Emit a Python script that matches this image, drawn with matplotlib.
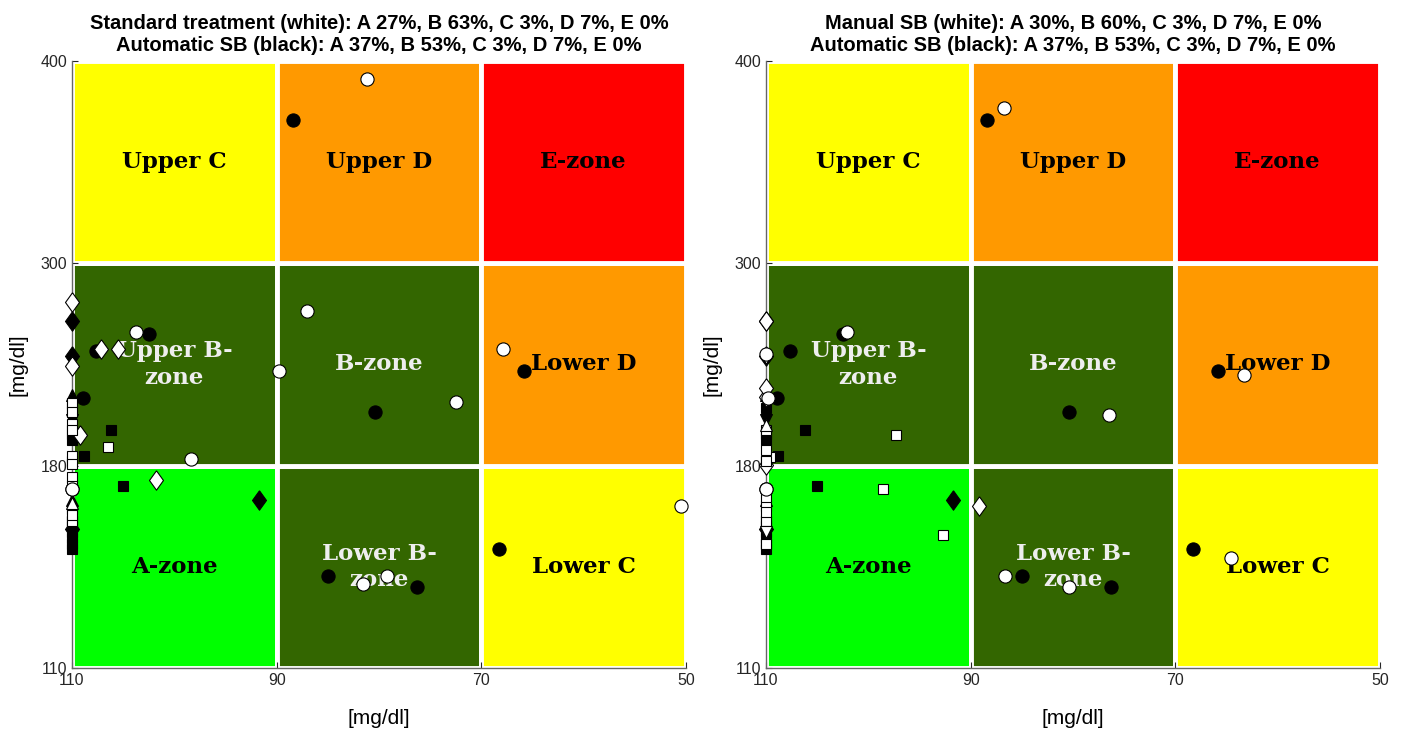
import numpy as np
import matplotlib
matplotlib.use("Agg")
import matplotlib.pyplot as plt
from matplotlib.patches import Rectangle

plt.rcParams["font.family"] = ["Liberation Sans", "DejaVu Sans"]

# zone grid (min BG on x, max BG on y), mg/dl
x_edges = [110, 90, 70, 50]
y_edges = [110, 180, 300, 400]

zone_names = [["A-zone", "Lower B-\nzone", "Lower C"],
              ["Upper B-\nzone", "B-zone", "Lower D"],
              ["Upper C", "Upper D", "E-zone"]]
zone_colors = [["#00ff00", "#336600", "#ffff00"],
               ["#336600", "#336600", "#ff9900"],
               ["#ffff00", "#ff9900", "#ff0000"]]
zone_text = [["black", "#eeeeee", "black"],
             ["#eeeeee", "#eeeeee", "black"],
             ["black", "black", "black"]]

# standard treatment (white, left panel)
std_x = [81.2, 67.9, 50.5, 87.0, 89.8, 72.5, 79.2, 81.6, 103.7, 107.2,
         105.5, 110, 110, 110, 110, 110, 109.2, 106.5, 110, 98.4,
         110, 101.8, 110, 110, 110, 110, 110, 110, 110, 110]
std_y = [391, 249, 166, 272, 236, 218, 142, 139, 259, 249,
         249, 277, 239, 217, 212, 205, 198, 191, 186, 184,
         181, 175, 176, 172, 167, 165, 161, 173, 163, 201]
std_m = ["o", "o", "o", "o", "o", "o", "o", "o", "o", "d",
         "d", "d", "d", "s", "s", "s", "d", "s", "s", "o",
         "s", "d", "s", "o", "^", "s", "s", "s", "s", "s"]

# manual SB (white, right panel)
man_x = [86.7, 63.3, 64.6, 76.5, 86.6, 80.4, 102.1, 97.3, 110, 110,
         109.8, 110, 110, 109.6, 110, 110, 110, 89.2, 110, 110,
         98.6, 92.7, 110, 110, 110, 110, 110, 110, 110, 110]
man_y = [377, 234, 148, 210, 142, 138, 259, 198, 266, 246,
         220, 221, 204, 185, 180.5, 201, 244, 166, 183, 226,
         172, 156, 172, 166, 161, 157, 153, 164, 169, 189]
man_m = ["o", "o", "o", "o", "o", "o", "o", "s", "d", "o",
         "o", "d", "^", "s", "d", "s", "v", "d", "s", "d",
         "s", "s", "o", "s", "s", "v", "s", "s", "s", "s"]

# automatic SB (black, both panels)
auto_x = [88.4, 65.8, 68.3, 80.4, 85.0, 76.3, 102.5, 107.7, 108.9, 106.2,
          108.8, 110, 110, 110, 110, 110, 110, 110, 110, 105.0,
          91.7, 110, 110, 110, 110, 110, 110, 110, 110, 110]
auto_y = [371, 236, 151, 212, 142, 138, 258, 248, 220, 201,
          186, 266, 245, 222, 199, 214, 195, 207, 183, 173,
          168, 159, 157, 155, 151, 158, 172, 153, 168, 161]
auto_m = ["o", "o", "o", "o", "o", "o", "o", "o", "o", "s",
          "s", "d", "d", "^", "s", "s", "s", "v", "s", "s",
          "d", "s", "s", "s", "s", "d", "o", "s", "^", "s"]

titles = ["Standard treatment (white): A 27%, B 63%, C 3%, D 7%, E 0%\n"
          "Automatic SB (black): A 37%, B 53%, C 3%, D 7%, E 0%",
          "Manual SB (white): A 30%, B 60%, C 3%, D 7%, E 0%\n"
          "Automatic SB (black): A 37%, B 53%, C 3%, D 7%, E 0%"]

# a slightly wider diamond than matplotlib's 'd'
diamond = [(0, 1), (0.72, 0), (0, -1), (-0.72, 0), (0, 1)]
mshape = {"o": "o", "s": "s", "d": diamond, "^": "^", "v": "v"}
msize = {"o": 9.5, "s": 7.5, "d": 14, "^": 8, "v": 8}


def fwd_x(v):
    return np.interp(v, [50, 70, 90, 110], [0, 1, 2, 3])


def inv_x(u):
    return np.interp(u, [0, 1, 2, 3], [50, 70, 90, 110])


def fwd_y(v):
    return np.interp(v, [110, 180, 300, 400], [0, 1, 2, 3])


def inv_y(u):
    return np.interp(u, [0, 1, 2, 3], [110, 180, 300, 400])


def draw_points(ax, xs, ys, ms, face):
    for mk in ["d", "s", "^", "v", "o"]:
        px = [x for x, m in zip(xs, ms) if m == mk]
        py = [y for y, m in zip(ys, ms) if m == mk]
        if px:
            ax.plot(px, py, linestyle="none", marker=mshape[mk], markersize=msize[mk],
                    markerfacecolor=face, markeredgecolor="black",
                    markeredgewidth=0.8, clip_on=False, zorder=5)


def cvga(ax, white_x, white_y, white_m, title):
    ax.set_xscale("function", functions=(fwd_x, inv_x))
    ax.set_yscale("function", functions=(fwd_y, inv_y))
    ax.set_xlim(110, 50)
    ax.set_ylim(110, 400)

    for r in range(3):
        for c in range(3):
            x0, x1 = x_edges[c], x_edges[c + 1]
            y0, y1 = y_edges[r], y_edges[r + 1]
            ax.add_patch(Rectangle((x1, y0), x0 - x1, y1 - y0,
                                   facecolor=zone_colors[r][c], edgecolor="white",
                                   linewidth=3.5, zorder=1))
            ax.text(inv_x((fwd_x(x0) + fwd_x(x1)) / 2),
                    inv_y((fwd_y(y0) + fwd_y(y1)) / 2),
                    zone_names[r][c], ha="center", va="center",
                    family="DejaVu Serif", fontweight="bold", fontsize=16.5,
                    color=zone_text[r][c], linespacing=1.25, zorder=3)

    # black on the bottom, white drawn over it
    draw_points(ax, auto_x, auto_y, auto_m, "black")
    draw_points(ax, white_x, white_y, white_m, "white")

    ax.set_xticks(x_edges)
    ax.set_yticks(y_edges)
    ax.set_xticklabels([str(v) for v in x_edges])
    ax.set_yticklabels([str(v) for v in y_edges])
    ax.minorticks_off()
    ax.tick_params(direction="in", length=4, labelsize=11.5, colors="#262626")
    for s in ["top", "right"]:
        ax.spines[s].set_visible(False)
    for s in ["left", "bottom"]:
        ax.spines[s].set_color("#666666")
        ax.spines[s].set_linewidth(1.0)
    ax.set_xlabel("[mg/dl]", fontsize=15, labelpad=15)
    ax.set_ylabel("[mg/dl]", fontsize=15, labelpad=9)
    ax.set_title(title, fontweight="bold", fontsize=14.5, linespacing=1.2, pad=7)


fig = plt.figure(figsize=(14.05, 7.32), dpi=100)
ax1 = fig.add_axes([72 / 1405, 1 - 668 / 732, 614 / 1405, 607 / 732])
ax2 = fig.add_axes([766 / 1405, 1 - 668 / 732, 614 / 1405, 607 / 732])

cvga(ax1, std_x, std_y, std_m, titles[0])
cvga(ax2, man_x, man_y, man_m, titles[1])

fig.savefig("out.png", dpi=100)
